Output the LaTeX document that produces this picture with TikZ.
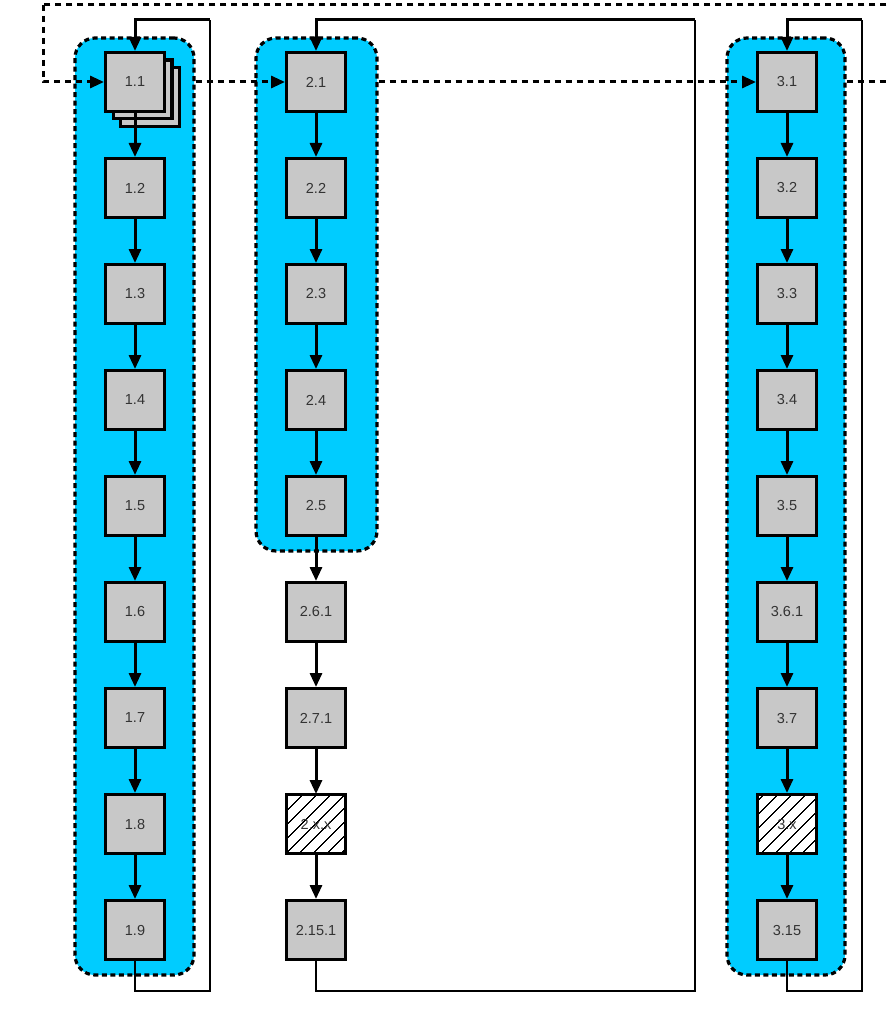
\documentclass[tikz,border=0pt]{standalone}
\usepackage{fontspec}
\setmainfont{Liberation Sans}
\usetikzlibrary{arrows.meta,patterns.meta}
\definecolor{boxgray}{HTML}{C8C8C8}
\definecolor{cblue}{HTML}{00CCFF}
\definecolor{txt}{HTML}{333333}
\begin{document}
\begin{tikzpicture}[x=1pt,y=-1pt,
  box/.style={draw=black,line width=3.4pt,fill=boxgray,minimum size=58.6pt,inner sep=0pt,
    font=\fontsize{14.5}{16}\selectfont,text=txt},
  hatchbox/.style={box,fill=none,preaction={fill=white},
    pattern={Lines[angle=45,distance=10.5pt,line width=1.3pt]},pattern color=black},
  container/.style={draw=black,line width=3.2pt,fill=cblue,rounded corners=20pt,
    dash pattern=on 5pt off 3.5pt,inner sep=0pt},
  conn/.style={line width=3pt,-{Triangle[length=14pt,width=12pt]}},
  loopline/.style={line width=2.8pt},
  dline/.style={line width=3pt,dash pattern=on 6pt off 5pt,-{Triangle[length=14pt,width=12pt]}},
  dplain/.style={line width=3pt,dash pattern=on 6pt off 5pt},
]
\clip (0,0) rectangle (888,1016);
\fill[white] (0,0) rectangle (888,1016);

% containers
\node[container,minimum width=119pt,minimum height=937pt] (c1) at (134.5,506.5) {};
\node[container,minimum width=121pt,minimum height=513pt] (c2) at (316.5,294.5) {};
\node[container,minimum width=118pt,minimum height=937pt] (c3) at (786,506.5) {};

% stack behind 1.1
\node[box] (s2) at (150,97) {};
\node[box] (s1) at (142.5,89.5) {};

% column 1
\foreach \i [count=\k from 0] in {1,...,9} {
  \node[box] (b1\i) at (135,82+106*\k) {1.\i};
}
% column 2
\node[box] (b21) at (316,82) {2.1};
\node[box] (b22) at (316,188) {2.2};
\node[box] (b23) at (316,294) {2.3};
\node[box] (b24) at (316,400) {2.4};
\node[box] (b25) at (316,506) {2.5};
\node[box] (b26) at (316,612) {2.6.1};
\node[box] (b27) at (316,718) {2.7.1};
\node[hatchbox] (b28) at (316,824) {2.x.x};
\node[box] (b29) at (316,930) {2.15.1};
% column 3
\node[box] (b31) at (787,82) {3.1};
\node[box] (b32) at (787,188) {3.2};
\node[box] (b33) at (787,294) {3.3};
\node[box] (b34) at (787,400) {3.4};
\node[box] (b35) at (787,506) {3.5};
\node[box] (b36) at (787,612) {3.6.1};
\node[box] (b37) at (787,718) {3.7};
\node[hatchbox] (b38) at (787,824) {3.x};
\node[box] (b39) at (787,930) {3.15};

% vertical chains
\foreach \c in {1,2,3} {
  \foreach \i [evaluate=\i as \j using int(\i+1)] in {1,...,8} {
    \draw[conn] (b\c\i.south) -- (b\c\j.north);
  }
}

% loops
\coordinate (l1a) at (135,991); \coordinate (l1b) at (210,20);
\draw[loopline] (b19.south) -- (l1a) -| (l1b);
\draw[conn] (l1b) -| (b11.north);
\coordinate (l2a) at (316,991); \coordinate (l2b) at (695,20);
\draw[loopline] (b29.south) -- (l2a) -| (l2b);
\draw[conn] (l2b) -| (b21.north);
\coordinate (l3a) at (787,991); \coordinate (l3b) at (862,20);
\draw[loopline] (b39.south) -- (l3a) -| (l3b);
\draw[conn] (l3b) -| (b31.north);

% dashed flow
\coordinate (d1) at (43,5); \coordinate (d2) at (905,82); \coordinate (d3) at (905,5);
\draw[dline] (d1) |- (b11.west);
\draw[dline] (c1.east |- b11) -- (b21.west);
\draw[dline] (c2.east |- b21) -- (b31.west);
\draw[dplain] (c3.east |- b31) -- (d2) -- (d3) -- (d1);
\end{tikzpicture}
\end{document}
